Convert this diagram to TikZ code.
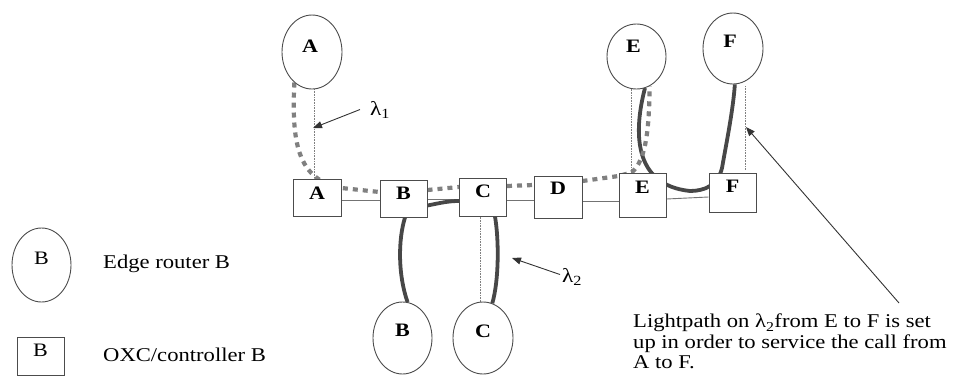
\documentclass[tikz,border=0pt]{standalone}
\usepackage{fontspec}
\setmainfont{Liberation Serif}[FakeStretch=1.16]
\usetikzlibrary{shapes.geometric,arrows.meta,backgrounds}
\begin{document}
\begin{tikzpicture}[x=1pt,y=-1pt,
  ell/.style={ellipse,draw=black!70,line width=0.9pt,fill=white,inner sep=0pt},
  box/.style={rectangle,draw=black!70,line width=1pt,fill=white,inner sep=0pt},
  nl/.style={font=\fontsize{19}{19}\selectfont\bfseries,inner sep=0pt},
  ll/.style={font=\fontsize{19}{19}\selectfont,inner sep=0pt},
  thinl/.style={draw=black!55,line width=0.9pt},
  fdot/.style={draw=black!50,line width=0.9pt,dash pattern=on 0.8pt off 0.8pt},
  ltwo/.style={draw=black!72,line width=3.8pt},
  lone/.style={draw=black!50,line width=4.2pt,dash pattern=on 5pt off 5pt},
  ptr/.style={draw=black!80,line width=0.9pt,-{Triangle[length=9pt,width=7pt]}},
  txt/.style={font=\fontsize{19.5}{20.5}\selectfont,inner sep=0pt}]
\useasboundingbox (0,0) rectangle (959,376);

% OXC boxes
\node[box,minimum width=48,minimum height=37,label={[nl,yshift=4.5]center:A}] (bA) at (317,198) {};
\node[box,minimum width=47,minimum height=37,label={[nl,yshift=5]center:B}] (bB) at (403.5,198.5) {};
\node[box,minimum width=47,minimum height=38,label={[nl,yshift=5.5]center:C}] (bC) at (483,197) {};
\node[box,minimum width=48,minimum height=42,label={[nl,yshift=9]center:D}] (bD) at (558,197) {};
\node[box,minimum width=47,minimum height=44,label={[nl,yshift=8]center:E}] (bE) at (642.5,195) {};
\node[box,minimum width=47,minimum height=39,label={[nl,yshift=6]center:F}] (bF) at (732.5,192.5) {};

% edge routers
\node[ell,minimum width=60,minimum height=74,label={[nl,yshift=6,xshift=-2]center:A}] (eA) at (312,52) {};
\node[ell,minimum width=59,minimum height=65,label={[nl,yshift=10,xshift=-3]center:E}] (eE) at (636.5,56.5) {};
\node[ell,minimum width=60,minimum height=71,label={[nl,yshift=7.5,xshift=-3]center:F}] (eF) at (733,48.5) {};
\node[ell,minimum width=59,minimum height=72,label={[nl,yshift=8]center:B}] (eB) at (402.5,338) {};
\node[ell,minimum width=60,minimum height=72,label={[nl,yshift=7]center:C}] (eC) at (483,338) {};

% legend
\node[ell,minimum width=59,minimum height=74,label={[ll,yshift=7]center:B}] (lE) at (41.5,265) {};
\node[box,minimum width=47,minimum height=38,label={[ll,yshift=6]center:B}] (lB) at (40.5,356) {};
\node[txt,anchor=base west] (t1) at (103,268) {Edge router B};
\node[txt,anchor=base west] (t2) at (103,361.5) {OXC/controller B};

% labels
\node[txt,font=\fontsize{20}{20}\selectfont,anchor=base west] (l1) at (370,115) {λ\textsubscript{1}};
\node[txt,font=\fontsize{20}{20}\selectfont,anchor=base west] (l2) at (562,282) {λ\textsubscript{2}};
\node[txt,anchor=north west,align=left] (note) at (633,314)
  {Lightpath on λ\textsubscript{2}from E to F is set\\up in order to service the call from\\A to F.};

\coordinate (dA) at (314.5,89);
\coordinate (dC) at (480,302.2);
\coordinate (dE) at (631,88.5);
\coordinate (dF1) at (745.5,86);
\coordinate (dF2) at (745.5,170);
\coordinate (a1e) at (313,128);
\coordinate (a2e) at (512,258);
\coordinate (a3s) at (899,303);
\coordinate (a3e) at (746,127);

\begin{pgfonlayer}{background}
% physical links
\draw[thinl] ([yshift=-2]bA.east) -- ([yshift=-1.5]bB.west);
\draw[thinl] ([yshift=-0.5]bB.east) -- ([yshift=-2]bC.west);
\draw[thinl] ([yshift=-3]bC.east) -- ([yshift=-3]bD.west);
\draw[thinl] ([yshift=-4]bD.east) -- ([yshift=-6]bE.west);
\draw[thinl] ([yshift=-4]bE.east) -- ([yshift=-4.5]bF.west);
% fine dotted access links
\draw[fdot] (dA) -- (dA |- bA.north);
\draw[fdot] (dC |- bC.south) -- (dC);
\draw[fdot] (dE) -- (dE |- bE.north);
\draw[fdot] (dF1) -- (dF2);
% lambda 2 lightpaths
\draw[ltwo] ([xshift=1.5]bB.south) .. controls (398,240) and (398,275) .. (eB.82);
\draw[ltwo] ([yshift=-7]bB.east) .. controls (440,203) and (448,201) .. ([yshift=-4]bC.west);
\draw[ltwo] ([xshift=12]bC.south) .. controls (499,240) and (499,280) .. (eC.75);
\draw[ltwo] (eE.-75) .. controls (634,130) and (632,185) .. (690,191)
  .. controls (705,191) and (718,185) .. (722,168)
  .. controls (727,140) and (733,110) .. (eF.-87);
% lambda 1 lightpath
\draw[lone] (eA.-120) .. controls (291,148) and (300,180) .. ([yshift=10]bA.east)
  -- ([yshift=6.5]bB.west)
  ([yshift=8.5]bB.east) -- ([yshift=10]bC.west)
  ([yshift=11]bC.east) -- ([yshift=12]bD.west)
  ([yshift=16]bD.east) -- ([yshift=19]bE.west) -- ([xshift=-11]bE.north)
  .. controls (647,160) and (649,125) .. (eE.-66);
\end{pgfonlayer}

% pointers
\draw[ptr] ([xshift=-10]l1.west) -- (a1e);
\draw[ptr] ([xshift=-2,yshift=2]l2.west) -- (a2e);
\draw[ptr] (a3s) -- (a3e);
\end{tikzpicture}
\end{document}
